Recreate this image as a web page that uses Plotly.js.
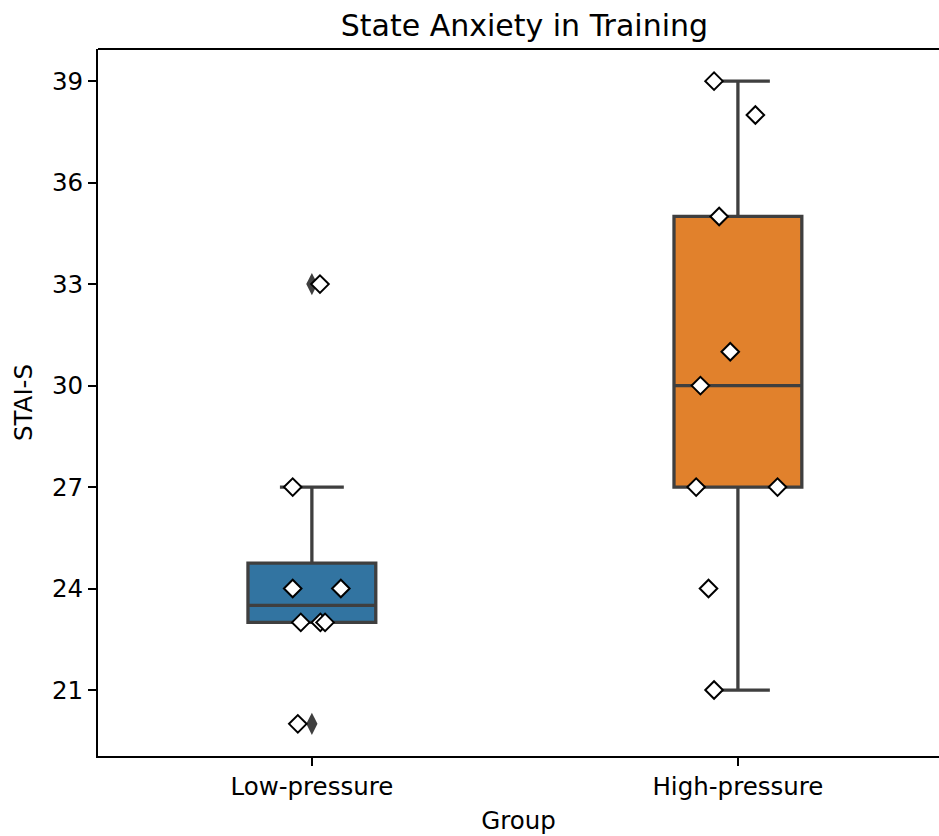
<!DOCTYPE html>
<html>
<head>
<meta charset="utf-8">
<script src="https://cdn.plot.ly/plotly-3.0.1.min.js"></script>
<style>html,body{margin:0;padding:0;background:#fff;}#chart{width:939px;height:836px;}</style>
</head>
<body>
<div id="chart"></div>
<script>
// Data
const categories = ["Low-pressure", "High-pressure"];
const lowValues  = [33, 27, 24, 24, 23, 23, 23, 20];
const lowJitter  = [0.019, -0.045, -0.045, 0.068, -0.026, 0.020, 0.031, -0.033];
const highValues = [39, 38, 35, 31, 30, 27, 27, 24, 21];
const highJitter = [-0.056, 0.041, -0.044, -0.018, -0.088, -0.098, 0.093, -0.069, -0.056];
const boxColors = ["#3274a1", "#e1812c"];
const yTicks = [21, 24, 27, 30, 33, 36, 39];

function pct(sorted, p) {
  const pos = (sorted.length - 1) * p;
  const lo = Math.floor(pos), hi = Math.ceil(pos);
  return sorted[lo] + (sorted[hi] - sorted[lo]) * (pos - lo);
}
function stats(vals) {
  const s = vals.slice().sort((a, b) => a - b);
  const q1 = pct(s, 0.25), med = pct(s, 0.5), q3 = pct(s, 0.75);
  const iqr = q3 - q1;
  const inside = s.filter(v => v >= q1 - 1.5 * iqr && v <= q3 + 1.5 * iqr);
  const fliers = s.filter(v => v < q1 - 1.5 * iqr || v > q3 + 1.5 * iqr);
  return {q1, med, q3, lo: Math.min(...inside), hi: Math.max(...inside), fliers};
}

const groups = [lowValues, highValues];
const jitters = [lowJitter, highJitter];
const traces = [];
groups.forEach((vals, i) => {
  const st = stats(vals);
  traces.push({
    type: "box", x: [i], q1: [st.q1], median: [st.med], q3: [st.q3],
    lowerfence: [st.lo], upperfence: [st.hi],
    width: 0.3, whiskerwidth: 0.5,
    fillcolor: boxColors[i], line: {color: "#3f3f3f", width: 3.3},
    boxpoints: false, hoverinfo: "skip", showlegend: false
  });
  if (st.fliers.length) {
    traces.push({
      type: "scatter", mode: "markers",
      x: st.fliers.map(() => i), y: st.fliers,
      marker: {symbol: "diamond-tall", size: 16, color: "#3f3f3f", line: {width: 0}},
      showlegend: false, hoverinfo: "skip"
    });
  }
});
groups.forEach((vals, i) => {
  traces.push({
    type: "scatter", mode: "markers",
    x: vals.map((v, k) => i + jitters[i][k]), y: vals,
    marker: {symbol: "diamond", size: 13.5, color: "#ffffff", line: {color: "#000000", width: 2}},
    showlegend: false, hoverinfo: "skip"
  });
});

const font = {family: "DejaVu Sans, sans-serif", color: "#000", size: 24.5};
const layout = {
  width: 939, height: 836,
  margin: {l: 98, r: 0, t: 49, b: 80, pad: 0},
  paper_bgcolor: "#fff", plot_bgcolor: "#fff",
  font: font,
  title: {text: "State Anxiety in Training", font: {family: font.family, size: 30, color: "#000"},
          x: 0.507, xanchor: "center", xref: "paper", y: 0.97, yanchor: "middle", yref: "container"},
  xaxis: {
    range: [-0.502, 1.472], tickvals: [0, 1], ticktext: categories,
    showgrid: false, zeroline: false, showline: true, linecolor: "#000", linewidth: 2,
    ticks: "outside", ticklen: 8, tickwidth: 2, tickcolor: "#000",
    tickfont: font, title: {text: "Group", font: font, standoff: 11}
  },
  yaxis: {
    range: [19.05, 39.95], tickvals: yTicks,
    showgrid: false, zeroline: false, showline: true, linecolor: "#000", linewidth: 2,
    ticks: "outside", ticklen: 8, tickwidth: 2, tickcolor: "#000",
    tickfont: font, title: {text: "STAI-S", font: font, standoff: 12}
  },
  shapes: [{type: "line", xref: "paper", yref: "paper", x0: 0, x1: 1, y0: 1, y1: 1,
            line: {color: "#000", width: 2}}]
};
Plotly.newPlot("chart", traces, layout, {displayModeBar: false, staticPlot: true});
</script>
</body>
</html>
